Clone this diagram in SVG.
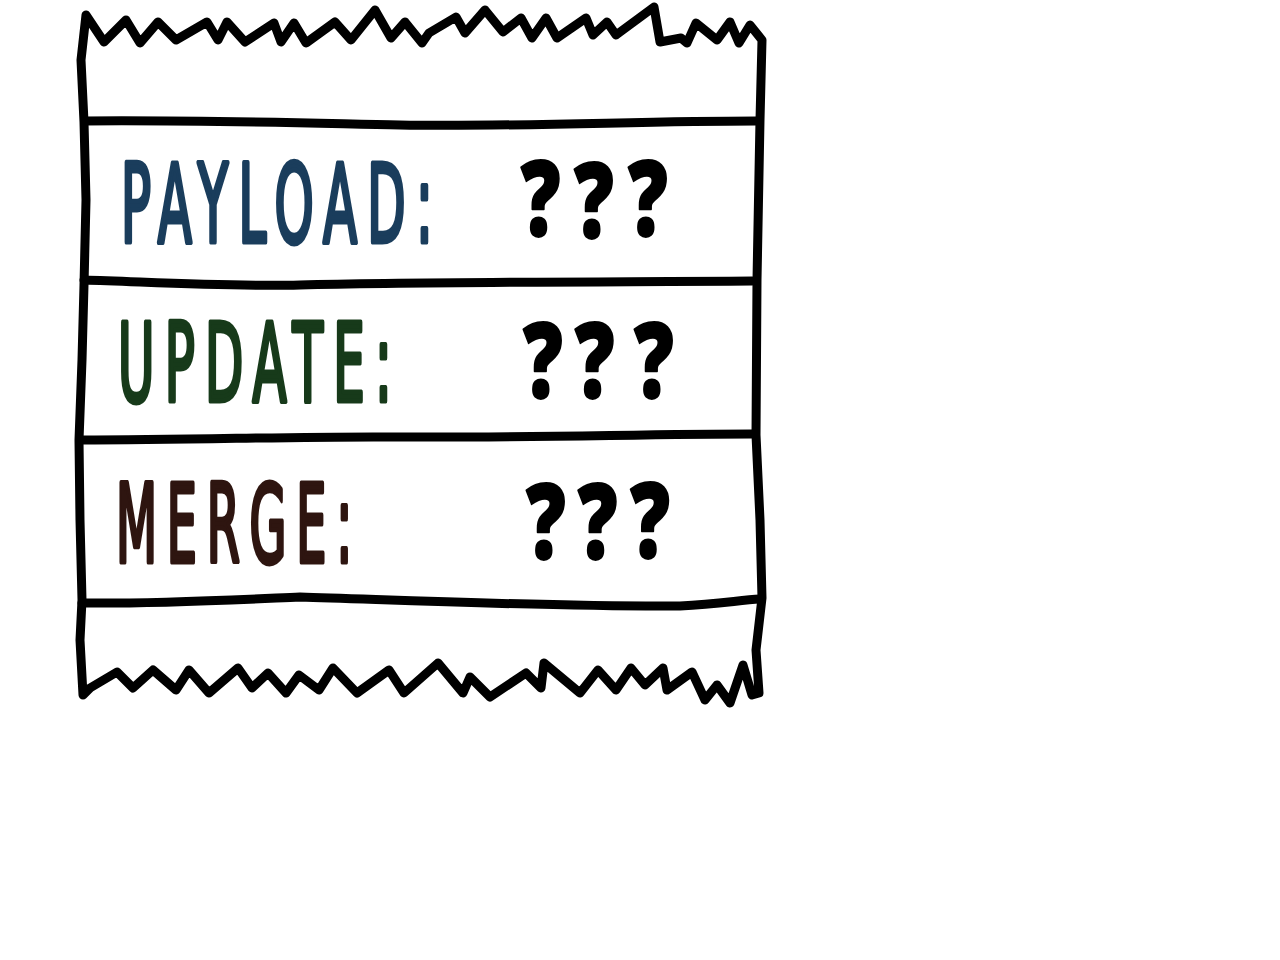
<svg xmlns="http://www.w3.org/2000/svg" width="1280" height="960" viewBox="0 0 1280 960">
<style>
.ln{fill:none;stroke:#000;stroke-width:9;stroke-linejoin:round;stroke-linecap:round}
.lbl{font-family:"DejaVu Sans Condensed","DejaVu Sans",sans-serif;font-size:108px;letter-spacing:20px;stroke-width:5;stroke-linejoin:round;stroke-linecap:round}
.p{fill:#1a3d5c;stroke:#1a3d5c}
.u{fill:#173a1a;stroke:#173a1a}
.m{fill:#2e1510;stroke:#2e1510}
.q{font-family:"Open Sans","DejaVu Sans",sans-serif;font-weight:800;font-size:104px;fill:#000;stroke:#000;stroke-width:2;stroke-linejoin:round;text-anchor:middle}
</style>
<rect width="1280" height="960" fill="#fff"/>
<g id="ticket">
<path class="ln" d="M86,15 L104,42 L126,20 L140,43 L158,22 L176,40 L207,22 L218,40 L227,22 L245,42 L274,23 L281,42 L294,23 L306,43 L335,22 L351,40 L375,10 L391,38 L405,22 L422,43 L429,33 L456,17 L465,33 L485,10 L503,32 L521,18 L532,38 L546,18 L557,38 L586,18 L593,35 L607,22 L616,35 L654,7 L660,42 L681,38 L687,43 L696,23 L717,40 L730,22 L739,43 L750,25 L762,40 L760,120 L757,280 L756,435 L760,520 L762,598 L756,650 L759,693 L752,695 L743,665 L730,703 L717,685 L705,700 L692,672 L667,690 L663,668 L645,685 L631,668 L616,690 L598,670 L580,693 L544,663 L541,688 L526,673 L490,697 L470,677 L463,693 L438,663 L404,693 L389,670 L357,693 L333,668 L319,690 L299,675 L286,693 L268,673 L252,688 L238,668 L209,693 L189,670 L176,690 L153,670 L133,688 L117,672 L90,688 L83,695 L80,640 L82,600 L80,520 L79,440 L82,360 L84,285 L86,200 L84,122 L81,60 Z"/>
</g>
<g id="dividers">
<path class="ln" d="M85,121 C200,120 300,123 400,125 C520,127 640,121 756,121"/>
<path class="ln" d="M84,280 C150,282 230,287 300,285 C420,282 600,282 752,281"/>
<path class="ln" d="M80,440 C200,440 300,436 400,437 C520,438 650,434 752,434"/>
<path class="ln" d="M82,603 C150,604 230,600 300,597 C400,600 560,607 680,606 C720,604 740,600 760,599"/>
</g>
<g id="row-payload">
<text class="lbl p" x="121" y="242" textLength="322" lengthAdjust="spacingAndGlyphs">PAYLOAD:</text>
<text class="q" transform="scale(0.75,1)" x="721 792 864" y="236 238 236">???</text>
</g>
<g id="row-update">
<text class="lbl u" x="118" y="401" textLength="284" lengthAdjust="spacingAndGlyphs">UPDATE:</text>
<text class="q" transform="scale(0.75,1)" x="724 793 872" y="398">???</text>
</g>
<g id="row-merge">
<text class="lbl m" x="116" y="562" textLength="246" lengthAdjust="spacingAndGlyphs">MERGE:</text>
<text class="q" transform="scale(0.75,1)" x="728 797 867" y="559 559 558">???</text>
</g>
</svg>
